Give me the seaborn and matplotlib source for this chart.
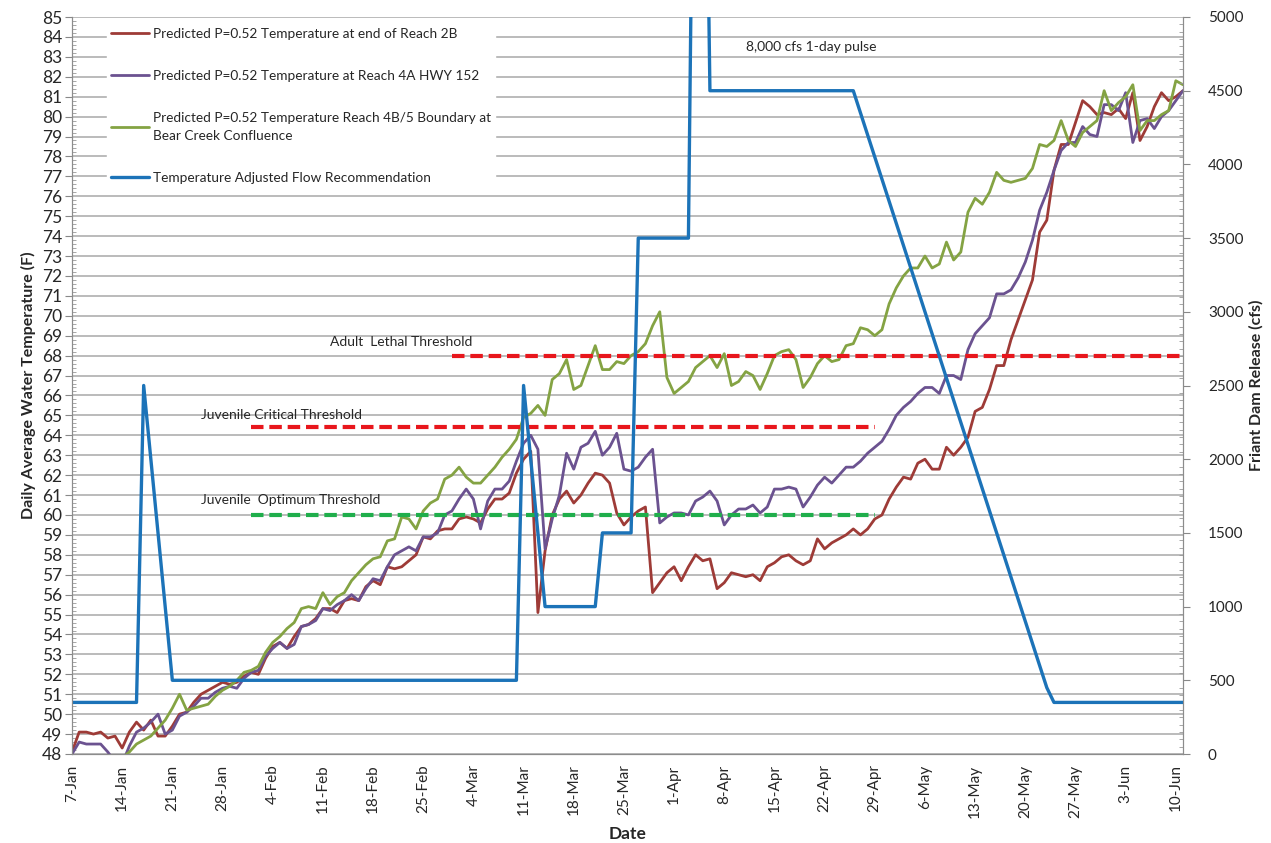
import numpy as np
import pandas as pd
import seaborn as sns
import matplotlib
matplotlib.use("Agg")
import matplotlib.pyplot as plt
import matplotlib.ticker as mticker

sns.set_style("white")
plt.rcParams['font.family'] = ['Lato', 'DejaVu Sans']

# daily temperatures (F), 7-Jan .. 11-Jun
reach_2b = [48.1, 49.1, 49.1, 49.0, 49.1, 48.8, 48.9, 48.3, 49.1, 49.6,
            49.2, 49.7, 48.9, 48.9, 49.4, 50.0, 50.1, 50.6, 51.0, 51.2,
            51.4, 51.6, 51.5, 51.6, 51.9, 52.1, 52.0, 52.8, 53.4, 53.6,
            53.3, 53.9, 54.4, 54.5, 54.8, 55.3, 55.3, 55.1, 55.7, 55.8,
            55.7, 56.4, 56.7, 56.5, 57.4, 57.3, 57.4, 57.7, 58.0, 58.9,
            58.8, 59.2, 59.3, 59.3, 59.8, 59.9, 59.8, 59.6, 60.3, 60.8,
            60.8, 61.1, 62.1, 62.8, 63.2, 55.1, 58.2, 60.0, 60.8, 61.2,
            60.6, 61.0, 61.6, 62.1, 62.0, 61.6, 60.1, 59.5, 59.9, 60.2,
            60.4, 56.1, 56.6, 57.1, 57.4, 56.7, 57.4, 58.0, 57.7, 57.8,
            56.3, 56.6, 57.1, 57.0, 56.9, 57.0, 56.7, 57.4, 57.6, 57.9,
            58.0, 57.7, 57.5, 57.7, 58.8, 58.3, 58.6, 58.8, 59.0, 59.3,
            59.0, 59.3, 59.8, 60.0, 60.8, 61.4, 61.9, 61.8, 62.6, 62.8,
            62.3, 62.3, 63.4, 63.0, 63.4, 63.9, 65.2, 65.4, 66.3, 67.5,
            67.5, 68.8, 69.8, 70.8, 71.8, 74.2, 74.8, 77.3, 78.6, 78.6,
            79.7, 80.8, 80.5, 80.1, 80.2, 80.1, 80.4, 79.9, 81.2, 78.8,
            79.5, 80.5, 81.2, 80.8, 81.0, 81.3]
reach_4a = [48.0, 48.6, 48.5, 48.5, 48.5, 48.1, 47.6, 47.5, 48.4, 49.1,
            49.3, 49.6, 50.0, 49.0, 49.2, 49.9, 50.1, 50.4, 50.8, 50.8,
            51.1, 51.3, 51.4, 51.3, 51.8, 52.1, 52.2, 52.9, 53.3, 53.6,
            53.3, 53.5, 54.4, 54.5, 54.7, 55.3, 55.2, 55.5, 55.7, 56.0,
            55.7, 56.3, 56.8, 56.7, 57.4, 58.0, 58.2, 58.4, 58.2, 58.9,
            58.9, 59.1, 60.0, 60.2, 60.8, 61.3, 60.8, 59.3, 60.7, 61.3,
            61.3, 61.7, 62.7, 63.6, 64.0, 63.3, 58.3, 59.8, 61.0, 63.1,
            62.3, 63.4, 63.6, 64.2, 63.0, 63.4, 64.1, 62.3, 62.2, 62.4,
            62.9, 63.3, 59.6, 59.9, 60.1, 60.1, 60.0, 60.7, 60.9, 61.2,
            60.7, 59.5, 60.0, 60.3, 60.3, 60.5, 60.1, 60.4, 61.3, 61.3,
            61.4, 61.3, 60.4, 60.9, 61.5, 61.9, 61.6, 62.0, 62.4, 62.4,
            62.7, 63.1, 63.4, 63.7, 64.3, 65.0, 65.4, 65.7, 66.1, 66.4,
            66.4, 66.1, 67.0, 67.0, 66.8, 68.3, 69.1, 69.5, 69.9, 71.1,
            71.1, 71.3, 71.9, 72.7, 73.8, 75.3, 76.2, 77.3, 78.3, 78.7,
            78.7, 79.5, 79.1, 79.0, 80.6, 80.6, 80.3, 81.2, 78.7, 79.8,
            79.9, 79.4, 80.0, 80.3, 80.8, 81.3]
reach_4b5 = [47.5, 47.4, 47.4, 47.3, 47.3, 47.4, 47.5, 47.8, 48.1, 48.5,
             48.7, 48.9, 49.3, 49.7, 50.3, 51.0, 50.2, 50.3, 50.4, 50.5,
             50.9, 51.2, 51.4, 51.7, 52.1, 52.2, 52.4, 53.1, 53.6, 53.9,
             54.3, 54.6, 55.3, 55.4, 55.3, 56.1, 55.5, 55.9, 56.1, 56.7,
             57.1, 57.5, 57.8, 57.9, 58.7, 58.8, 59.9, 59.8, 59.3, 60.2,
             60.6, 60.8, 61.8, 62.0, 62.4, 61.9, 61.6, 61.6, 62.0, 62.4,
             62.9, 63.3, 63.8, 64.9, 65.1, 65.5, 65.0, 66.8, 67.1, 67.8,
             66.3, 66.5, 67.5, 68.5, 67.3, 67.3, 67.7, 67.6, 68.0, 68.2,
             68.6, 69.5, 70.2, 66.9, 66.1, 66.4, 66.7, 67.4, 67.7, 68.0,
             67.4, 68.1, 66.5, 66.7, 67.2, 67.0, 66.3, 67.1, 68.0, 68.2,
             68.3, 67.8, 66.4, 66.9, 67.6, 68.0, 67.7, 67.8, 68.5, 68.6,
             69.4, 69.3, 69.0, 69.3, 70.6, 71.4, 72.0, 72.4, 72.4, 73.0,
             72.4, 72.6, 73.7, 72.8, 73.2, 75.2, 75.9, 75.6, 76.2, 77.2,
             76.8, 76.7, 76.8, 76.9, 77.4, 78.6, 78.5, 78.8, 79.8, 78.8,
             78.5, 79.2, 79.5, 79.8, 81.3, 80.3, 80.7, 81.0, 81.6, 79.3,
             79.8, 79.8, 80.1, 80.3, 81.8, 81.6]

# flow recommendation (cfs), breakpoints
flow_dates = ['2013-01-07', '2013-01-16', '2013-01-17', '2013-01-21', '2013-03-10',
              '2013-03-11', '2013-03-14', '2013-03-21', '2013-03-22', '2013-03-26',
              '2013-03-27', '2013-04-03', '2013-04-04', '2013-04-05', '2013-04-06',
              '2013-04-26', '2013-05-23', '2013-05-24', '2013-06-11']
flow_cfs = [350, 350, 2500, 500, 500,
            2500, 1000, 1000, 1500, 1500,
            3500, 3500, 8000, 8000, 4500,
            4500, 450, 350, 350]

thr_names = ['Adult  Lethal Threshold', 'Juvenile Critical Threshold', 'Juvenile  Optimum Threshold']
thr_values = [68.0, 64.4, 60.0]
thr_start = ['2013-03-01', '2013-02-01', '2013-02-01']
thr_end = ['2013-06-11', '2013-04-29', '2013-04-29']
thr_colors = ['#e8161c', '#e8161c', '#1fae4b']

labels = ['Predicted P=0.52 Temperature at end of Reach 2B',
          'Predicted P=0.52 Temperature at Reach 4A HWY 152',
          'Predicted P=0.52 Temperature Reach 4B/5 Boundary at\nBear Creek Confluence',
          'Temperature Adjusted Flow Recommendation']
colors = ['#9e3b37', '#6b5290', '#84a343', '#1c73b8']

days = pd.date_range('2013-01-07', periods=len(reach_2b), freq='D')
temps = pd.DataFrame({'Date': days, 'r2b': reach_2b, 'r4a': reach_4a, 'r4b': reach_4b5})
flow = pd.DataFrame({'Date': pd.to_datetime(flow_dates), 'cfs': flow_cfs})

fig = plt.figure(figsize=(12.71, 8.43), dpi=100)
ax = fig.add_axes([72/1271, 1-754/843, (1183-72)/1271, (754-17)/843])
ax2 = ax.twinx()

for col, lab, c in zip(['r2b', 'r4a', 'r4b'], labels[:3], colors[:3]):
    sns.lineplot(data=temps, x='Date', y=col, ax=ax, color=c, lw=2.0, label=lab, legend=False)
sns.lineplot(data=flow, x='Date', y='cfs', ax=ax2, color=colors[3], lw=2.4, label=labels[3], legend=False)

for name, v, s, e, c in zip(thr_names, thr_values, thr_start, thr_end, thr_colors):
    ax.plot(pd.to_datetime([s, e]), [v, v], color=c, lw=3.0, linestyle=(0, (3.0, 1.4)), solid_capstyle='butt')

ax.text(pd.Timestamp('2013-02-12'), 68.7, thr_names[0], fontsize=10, ha='left', va='center')
ax.text(pd.Timestamp('2013-01-25'), 65.0, thr_names[1], fontsize=10, ha='left', va='center')
ax.text(pd.Timestamp('2013-01-25'), 60.75, thr_names[2], fontsize=10, ha='left', va='center')
ax.text(pd.Timestamp('2013-04-11'), 83.5, '8,000 cfs 1-day pulse', fontsize=10, ha='left', va='center')

ax.set_ylim(48, 85)
ax2.set_ylim(0, 5000)
ax.set_xlim(days[0], days[-1])

ax.yaxis.set_major_locator(mticker.MultipleLocator(1))
ax.yaxis.set_minor_locator(mticker.MultipleLocator(0.2))
ax2.yaxis.set_major_locator(mticker.MultipleLocator(500))
ax2.yaxis.set_minor_locator(mticker.MultipleLocator(50))

week_ticks = pd.date_range('2013-01-07', '2013-06-10', freq='7D')
ax.set_xticks(week_ticks)
ax.set_xticklabels([f"{d.day}-{d.strftime('%b')}" for d in week_ticks], rotation=90)
ax.set_xticks(days, minor=True)

ax.grid(axis='y', color='#a8a8a8', lw=1.1)
ax.set_axisbelow(True)

ax.tick_params(axis='y', which='major', labelsize=12.5, length=5, color='#888888', pad=2)
ax.tick_params(axis='y', which='minor', direction='in', length=3, color='#999999')
ax.tick_params(axis='x', which='major', labelsize=11, direction='inout', length=9, color='#888888', pad=3)
ax.tick_params(axis='x', which='minor', direction='in', length=4, color='#999999')
ax2.tick_params(axis='y', which='major', labelsize=11, length=5, color='#888888', pad=13)
ax2.tick_params(axis='y', which='minor', direction='in', length=3, color='#999999')

for a in (ax, ax2):
    for sp in a.spines.values():
        sp.set_color('#8c8c8c')
    a.spines['top'].set_visible(False)

ax.set_xlabel('Date', fontsize=12.5, fontweight='bold', labelpad=6)
ax.set_ylabel('Daily Average Water Temperature (F)', fontsize=11.5, fontweight='bold', labelpad=4)
ax2.set_ylabel('Friant Dam Release (cfs)', fontsize=11.5, fontweight='bold', labelpad=4)

handles = ax.get_lines()[:3] + ax2.get_lines()[:1]
leg = ax2.legend(handles, labels, loc='upper left', bbox_to_anchor=(0.025, 1.0), fontsize=9.8,
                 frameon=True, framealpha=1.0, edgecolor='white', facecolor='white',
                 labelspacing=2.2, handlelength=2.8, handletextpad=0.3, borderpad=0.3)
leg.get_texts()[2].set_linespacing(1.6)

fig.savefig('out.png', dpi=100)
